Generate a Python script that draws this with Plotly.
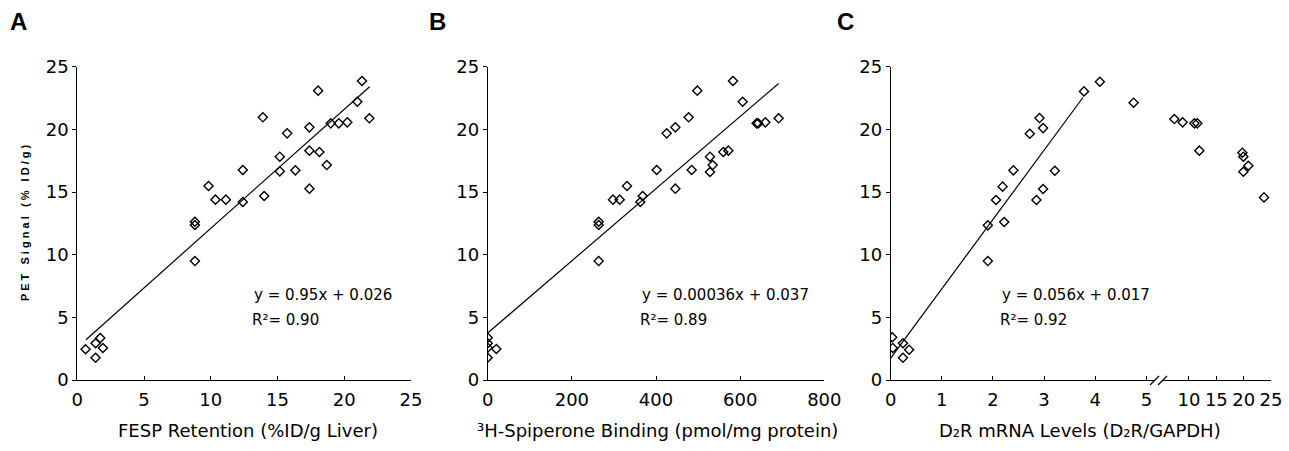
import numpy as np
import plotly.graph_objects as go

W, H = 1289, 451

# ---------------- data ----------------
# Panel A: FESP retention vs PET signal
fesp_x = [0.62, 1.37, 1.72, 1.37, 1.92, 8.81, 8.81, 8.81, 9.83, 10.35, 11.13, 12.4, 12.4,
          13.9, 14.0, 15.17, 15.17, 15.72, 16.34, 17.39, 17.39, 17.39, 18.04, 18.14, 18.69,
          18.99, 19.59, 20.23, 20.98, 21.33, 21.88]
fesp_y = [2.45, 2.93, 3.35, 1.78, 2.55, 12.63, 12.37, 9.49, 15.48, 14.39, 14.39, 16.76, 14.2,
          20.96, 14.68, 17.82, 16.65, 19.68, 16.73, 20.16, 18.3, 15.27, 23.09, 18.19, 17.15,
          20.48, 20.48, 20.56, 22.2, 23.86, 20.88]
fesp_fit = dict(slope=0.95, intercept=2.6, x_start=0.65, x_end=21.9)

# Panel B: 3H-spiperone binding vs PET signal
spip_x = [0, 0, 0, 0, 20.6, 263.8, 263.8, 263.8, 297.8, 313.7, 331, 362.8, 368.3, 401.6,
          425.4, 446, 446, 477.6, 484.8, 498.2, 528.3, 528.3, 534.7, 560, 571.9, 583, 606,
          639.2, 643, 659.8, 691.5]
spip_y = [3.38, 2.93, 2.58, 1.78, 2.47, 12.63, 12.37, 9.49, 14.39, 14.39, 15.48, 14.2, 14.68,
          16.76, 19.68, 20.16, 15.27, 20.96, 16.76, 23.09, 17.82, 16.6, 17.15, 18.19, 18.3,
          23.86, 22.2, 20.48, 20.48, 20.56, 20.88]
spip_fit = dict(slope=0.0288, intercept=3.75, x_start=0, x_end=691.5)

# Panel C: D2R mRNA levels vs PET signal (broken x axis)
mrna_x = [0.03, 0.04, 0.24, 0.24, 0.36, 1.90, 1.90, 2.06, 2.19, 2.22, 2.40, 2.72, 2.85, 2.91,
          2.98, 2.98, 3.21, 3.78, 4.09, 4.75,
          7.32, 8.84, 10.98, 11.52, 11.89, 19.76, 19.94, 19.94, 20.85, 23.72]
mrna_y = [3.41, 2.56, 2.93, 1.78, 2.42, 12.34, 9.49, 14.36, 15.43, 12.61, 16.73, 19.65, 14.36,
          20.9, 20.1, 15.24, 16.7, 23.03, 23.8, 22.13,
          20.82, 20.56, 20.48, 20.48, 18.3, 18.14, 17.82, 16.62, 17.1, 14.57]
mrna_fit = dict(slope=5.53, intercept=1.75, x_start=0, x_end=3.76)
mrna_break = 5.2

y_ticks = [0, 5, 10, 15, 20, 25]
fesp_ticks = [0, 5, 10, 15, 20, 25]
spip_ticks = [0, 200, 400, 600, 800]
mrna_ticks_low = [0, 1, 2, 3, 4, 5]
mrna_ticks_high = [10, 15, 20, 25]

eq_text = {
    "A": ["y = 0.95x + 0.026", "R²= 0.90"],
    "B": ["y = 0.00036x + 0.037", "R²= 0.89"],
    "C": ["y = 0.056x + 0.017", "R²= 0.92"],
}
x_titles = {
    "A": "FESP Retention (%ID/g Liver)",
    "B": "³H-Spiperone Binding (pmol/mg protein)",
    "C": "D₂R mRNA Levels (D₂R/GAPDH)",
}
y_title = "P E T   S i g n a l   ( %   I D / g )"

# ---------------- layout helpers ----------------
def px(x):
    return x / W

def py(y):
    return 1 - y / H

FONT = "DejaVu Sans, Arial, sans-serif"
TICKFONT = dict(family=FONT, size=18, color="black")
ydom = [py(380), py(66.7)]

fig = go.Figure()

marker = dict(symbol="diamond-open", size=7, color="black", line=dict(width=1.4, color="black"))

def add_panel(xs, ys, fit, xa, ya):
    fig.add_trace(go.Scatter(x=xs, y=ys, mode="markers", marker=marker,
                             xaxis=xa, yaxis=ya, showlegend=False, hoverinfo="skip"))
    if fit is not None:
        lx = np.array([fit["x_start"], fit["x_end"]])
        ly = fit["slope"] * lx + fit["intercept"]
        fig.add_trace(go.Scatter(x=lx, y=ly, mode="lines", line=dict(color="black", width=1.2),
                                 xaxis=xa, yaxis=ya, showlegend=False, hoverinfo="skip"))

add_panel(fesp_x, fesp_y, fesp_fit, "x", "y")
add_panel(spip_x, spip_y, spip_fit, "x2", "y2")
mx = np.array(mrna_x); my = np.array(mrna_y)
low = mx <= mrna_break
add_panel(mx[low], my[low], mrna_fit, "x3", "y3")
add_panel(mx[~low], my[~low], None, "x4", "y3")

common_x = dict(showline=True, linecolor="black", linewidth=1, ticks="inside", ticklen=4,
                tickcolor="black", tickwidth=1, showgrid=False, zeroline=False,
                tickfont=TICKFONT, ticklabelstandoff=3, automargin=False)
common_y = dict(showline=True, linecolor="black", linewidth=1, ticks="outside", ticklen=4,
                tickcolor="black", tickwidth=1, showgrid=False, zeroline=False,
                tickfont=TICKFONT, range=[0, 25], tickvals=y_ticks, domain=ydom,
                automargin=False)

fig.update_layout(
    width=W, height=H, margin=dict(l=0, r=0, t=0, b=0, autoexpand=False),
    paper_bgcolor="white", plot_bgcolor="rgba(0,0,0,0)",
    xaxis=dict(domain=[px(77.3), px(411)], range=[0, 25], tickvals=fesp_ticks, anchor="y", **common_x),
    yaxis=dict(anchor="x", **common_y),
    xaxis2=dict(domain=[px(487.7), px(824.3)], range=[0, 800], tickvals=spip_ticks, anchor="y2", **common_x),
    yaxis2=dict(anchor="x2", **common_y),
    xaxis3=dict(domain=[px(890.7), px(1155)], range=[0, (1155 - 890.7) / 51.13],
                tickvals=mrna_ticks_low, anchor="y3", **common_x),
    yaxis3=dict(anchor="x3", **common_y),
    xaxis4=dict(domain=[px(1163), px(1271)], range=[25 - 108 / 5.467, 25],
                tickvals=mrna_ticks_high, anchor="y3", **common_x),
)

annotations = []
# panel letters
for letter, cx in (("A", 18.5), ("B", 437), ("C", 845)):
    annotations.append(dict(text=f"<b>{letter}</b>", x=px(cx), y=py(21.5), xref="paper", yref="paper",
                            showarrow=False, xanchor="center", yanchor="middle",
                            font=dict(family="Liberation Sans, Arial", size=24, color="black")))
# equations
for key, lx in (("A", 250), ("B", 638), ("C", 998)):
    l1, l2 = eq_text[key]
    annotations.append(dict(text=l1, x=px(lx + 2), y=py(295), xref="paper", yref="paper",
                            showarrow=False, xanchor="left", yanchor="middle",
                            font=dict(family=FONT, size=15, color="black")))
    annotations.append(dict(text=l2, x=px(lx), y=py(320), xref="paper", yref="paper",
                            showarrow=False, xanchor="left", yanchor="middle",
                            font=dict(family=FONT, size=15, color="black")))
# x titles
for key, cx in (("A", 247.5), ("B", 657), ("C", 1080)):
    annotations.append(dict(text=x_titles[key], x=px(cx), y=py(430), xref="paper", yref="paper",
                            showarrow=False, xanchor="center", yanchor="middle",
                            font=dict(family=FONT, size=18, color="black")))
# y title (panel A)
annotations.append(dict(text=f"<b>{y_title}</b>", x=px(25), y=py(223), xref="paper", yref="paper",
                        showarrow=False, textangle=-90, xanchor="center", yanchor="middle",
                        font=dict(family="Liberation Sans, Arial", size=11, color="black")))
fig.update_layout(annotations=annotations)

# axis break marks "//"
for x0 in (1150, 1158):
    fig.add_shape(type="line", xref="paper", yref="paper",
                  x0=px(x0), y0=py(385), x1=px(x0 + 9), y1=py(376),
                  line=dict(color="black", width=1.2))

fig.write_html("out.html", config={"displayModeBar": False},
               post_script="document.body.style.margin='0';document.body.style.overflow='hidden';")
